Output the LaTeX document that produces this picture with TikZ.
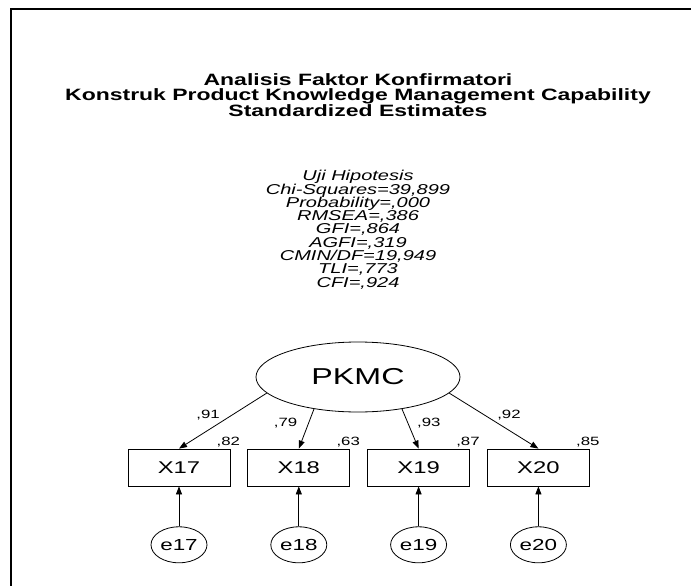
\documentclass[tikz,border=0pt]{standalone}
\usepackage{fontspec}
\setmainfont{Liberation Sans}[FakeStretch=1.4]
\usetikzlibrary{shapes,positioning,arrows.meta}
\newcommand\tightlines{\lineskiplimit=-20pt\relax}

\begin{document}
\begin{tikzpicture}
  [x=1pt,y=-1pt,line width=0.8pt,
   latentN/.style={ellipse,draw,minimum width=204pt,minimum height=70pt,font=\fontsize{23}{25}\selectfont},
   obsN/.style={rectangle,draw,minimum width=102pt,minimum height=37pt,font=\fontsize{17}{19}\selectfont},
   errN/.style={ellipse,draw,inner sep=0pt,minimum width=56pt,minimum height=36pt,font=\fontsize{16}{18}\selectfont},
   coefN/.style={inner sep=1pt,font=\fontsize{12}{13}\selectfont},
   pathE/.style={-{Triangle[length=8pt,width=6pt]}}]

  \useasboundingbox (0,0) rectangle (691,586);
  \draw [line width=2pt] (11,586) |- (691,9.5);

  \node[align=center,anchor=north,inner sep=0pt,
        font=\bfseries\fontsize{16.4}{15.4}\selectfont\tightlines] (title) at (358,73)
    {Analisis Faktor Konfirmatori\\
     Konstruk Product Knowledge Management Capability\\
     Standardized Estimates};

  \node[align=center,anchor=north,inner sep=0pt,
        font=\itshape\fontsize{14.3}{13.3}\selectfont\tightlines] (fit) at (358,170)
    {Uji Hipotesis\\ Chi-Squares=39,899\\ Probability=,000\\ RMSEA=,386\\ GFI=,864\\
     AGFI=,319\\ CMIN/DF=19,949\\ TLI=,773\\ CFI=,924};

  \node[latentN] (pkmc) at (358,377) {PKMC};

  \node[obsN] (x17) at (179,467.5) {X17};
  \node[obsN,right=17pt of x17] (x18) {X18};
  \node[obsN,right=17pt of x18] (x19) {X19};
  \node[obsN,right=17pt of x19] (x20) {X20};

  \node[errN,below=40pt of x17] (e17) {e17};
  \node[errN,below=40pt of x18] (e18) {e18};
  \node[errN,below=40pt of x19] (e19) {e19};
  \node[errN,below=40pt of x20] (e20) {e20};

  % loadings
  \draw [pathE] (pkmc.190) -- (x17.north) node[coefN,pos=0.4,left=10.5pt] (l17) {,91};
  \draw [pathE] (pkmc.216) -- (x18.north) node[coefN,pos=0.35,left=10pt]  (l18) {,79};
  \draw [pathE] (pkmc.324) -- (x19.north) node[coefN,pos=0.35,right=8pt]  (l19) {,93};
  \draw [pathE] (pkmc.350) -- (x20.north) node[coefN,pos=0.4,right=11pt]  (l20) {,92};

  % squared multiple correlations
  \node[coefN,anchor=south] (r17) at ([xshift=-2pt]x17.north east) {,82};
  \node[coefN,anchor=south] (r18) at ([xshift=-2pt]x18.north east) {,63};
  \node[coefN,anchor=south] (r19) at ([xshift=-2pt]x19.north east) {,87};
  \node[coefN,anchor=south] (r20) at ([xshift=-2pt]x20.north east) {,85};

  \draw [pathE] (e17) -- (x17);
  \draw [pathE] (e18) -- (x18);
  \draw [pathE] (e19) -- (x19);
  \draw [pathE] (e20) -- (x20);

\end{tikzpicture}
\end{document}
